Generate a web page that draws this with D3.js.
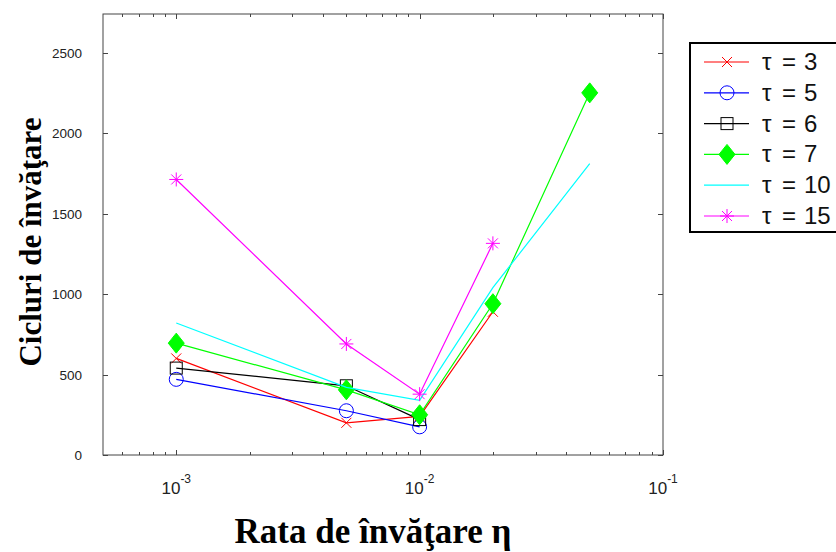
<!DOCTYPE html>
<html><head><meta charset="utf-8">
<script src="https://cdn.jsdelivr.net/npm/d3@7"></script>
<style>body{margin:0;background:#fff}svg{display:block}</style>
</head><body>
<svg id="c" width="836" height="552"></svg>
<script>
const xValues = [0.001, 0.005, 0.01, 0.02, 0.05];
const tau3  = [600, 200, 240, 890];
const tau5  = [470, 275, 175];
const tau6  = [540, 430, 220];
const tau7  = [695, 405, 250, 940, 2250];
const tau10 = [820, 420, 340, 1040, 1810];
const tau15 = [1712, 690, 378, 1315];
const yTicks = [0, 500, 1000, 1500, 2000, 2500];
const xTickExps = [-3, -2, -1];
const legendTau = ["3", "5", "6", "7", "10", "15"];

const series = [
  {vals: tau3, color: "#ff0000", marker: "x"},
  {vals: tau5, color: "#0000ff", marker: "circle"},
  {vals: tau6, color: "#000000", marker: "square"},
  {vals: tau7, color: "#00ff00", marker: "diamond"},
  {vals: tau10, color: "#00ffff", marker: "none"},
  {vals: tau15, color: "#ff00ff", marker: "star"}
];

const svg = d3.select("#c");
const L = 103, R = 663, T = 14, B = 455;
const x = d3.scaleLog().domain([5e-4, 0.1]).range([L, R]);
const y = d3.scaleLinear().domain([0, 2740]).range([B, T]);

// frame
svg.append("rect").attr("x", L).attr("y", T).attr("width", R - L).attr("height", B - T)
  .attr("fill", "none").attr("stroke", "#444").attr("stroke-width", 1);

// x ticks
const minor = [];
for (let e = -4; e <= -2; e++) for (let m = 2; m <= 9; m++) {
  const v = m * Math.pow(10, e);
  if (v > 5e-4 && v < 0.1) minor.push(v);
}
const tk = svg.append("g").attr("stroke", "#444").attr("stroke-width", 1);
minor.forEach(v => {
  const px = Math.round(x(v)) + 0.5;
  tk.append("line").attr("x1", px).attr("x2", px).attr("y1", B).attr("y2", B - 3);
  tk.append("line").attr("x1", px).attr("x2", px).attr("y1", T).attr("y2", T + 3);
});
xTickExps.forEach(e => {
  const px = Math.round(x(Math.pow(10, e))) + 0.5;
  tk.append("line").attr("x1", px).attr("x2", px).attr("y1", B).attr("y2", B - 5);
  tk.append("line").attr("x1", px).attr("x2", px).attr("y1", T).attr("y2", T + 5);
});
yTicks.forEach(v => {
  const py = Math.round(y(v)) + 0.5;
  tk.append("line").attr("x1", L).attr("x2", L + 5).attr("y1", py).attr("y2", py);
  tk.append("line").attr("x1", R).attr("x2", R - 5).attr("y1", py).attr("y2", py);
});

// tick labels
const lab = svg.append("g").attr("font-family", "Liberation Sans, Arial, sans-serif").attr("fill", "#222");
yTicks.forEach(v => {
  lab.append("text").attr("x", 82).attr("y", y(v) + 5).attr("text-anchor", "end")
    .attr("font-size", 13.5).text(v);
});
xTickExps.forEach(e => {
  const t = lab.append("text").attr("x", x(Math.pow(10, e))).attr("y", 494)
    .attr("text-anchor", "middle").attr("font-size", 17);
  t.append("tspan").text("10");
  t.append("tspan").attr("font-size", 12).attr("dy", -11).text(String(e));
});

// titles
svg.append("text").attr("x", 373).attr("y", 543).attr("text-anchor", "middle")
  .attr("font-family", "Liberation Serif, Times New Roman, serif").attr("font-weight", "bold")
  .attr("font-size", 35).attr("fill", "#000").text("Rata de învăţare η");
svg.append("text").attr("transform", "translate(41,242) rotate(-90)").attr("text-anchor", "middle")
  .attr("font-family", "Liberation Serif, Times New Roman, serif").attr("font-weight", "bold")
  .attr("font-size", 31).attr("fill", "#000").text("Cicluri de învăţare");

function drawMarker(g, type, cx, cy, color) {
  if (type === "x") {
    const s = 5;
    g.append("path").attr("d", `M${cx - s},${cy - s}L${cx + s},${cy + s}M${cx - s},${cy + s}L${cx + s},${cy - s}`)
      .attr("stroke", color).attr("stroke-width", 1).attr("fill", "none");
  } else if (type === "circle") {
    g.append("circle").attr("cx", cx).attr("cy", cy).attr("r", 7)
      .attr("stroke", color).attr("stroke-width", 1).attr("fill", "none");
  } else if (type === "square") {
    g.append("rect").attr("x", cx - 6).attr("y", cy - 6).attr("width", 12).attr("height", 12)
      .attr("stroke", color).attr("stroke-width", 1).attr("fill", "none");
  } else if (type === "diamond") {
    g.append("path").attr("d", `M${cx},${cy - 10}L${cx + 8},${cy}L${cx},${cy + 10}L${cx - 8},${cy}Z`)
      .attr("fill", color).attr("stroke", color);
  } else if (type === "star") {
    const s = 7, d = 5;
    g.append("path").attr("d",
      `M${cx - s},${cy}L${cx + s},${cy}M${cx},${cy - s}L${cx},${cy + s}M${cx - d},${cy - d}L${cx + d},${cy + d}M${cx - d},${cy + d}L${cx + d},${cy - d}`)
      .attr("stroke", color).attr("stroke-width", 1).attr("fill", "none");
  }
}

const line = d3.line().x((d, i) => x(xValues[i])).y(d => y(d));
const plot = svg.append("g");
series.forEach(s => {
  plot.append("path").datum(s.vals).attr("d", line).attr("fill", "none")
    .attr("stroke", s.color).attr("stroke-width", 1.2);
  s.vals.forEach((v, i) => drawMarker(plot, s.marker, x(xValues[i]), y(v), s.color));
});

// legend
const lg = svg.append("g");
lg.append("rect").attr("x", 690).attr("y", 43).attr("width", 170).attr("height", 189)
  .attr("fill", "#fff").attr("stroke", "#000").attr("stroke-width", 2);
series.forEach((s, i) => {
  const ly = 62 + i * 30.8;
  lg.append("line").attr("x1", 704).attr("x2", 749).attr("y1", ly).attr("y2", ly)
    .attr("stroke", s.color).attr("stroke-width", 1.2);
  drawMarker(lg, s.marker, 727, ly, s.color);
  const t = lg.append("text").attr("y", ly + 8).attr("font-family", "Liberation Sans, Arial, sans-serif")
    .attr("font-size", 24).attr("fill", "#111");
  t.append("tspan").attr("x", 762).text("τ");
  t.append("tspan").attr("x", 782).text("=");
  t.append("tspan").attr("x", 804).text(legendTau[i]);
});
</script>
</body></html>
